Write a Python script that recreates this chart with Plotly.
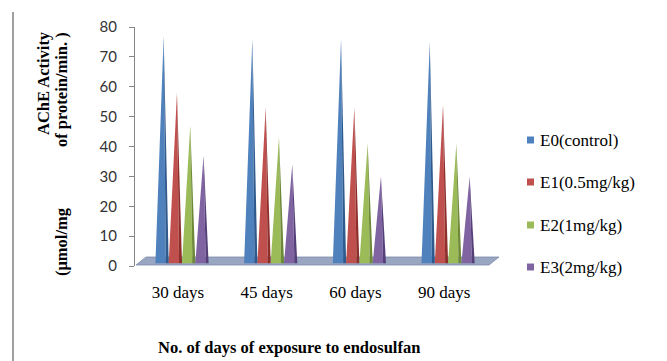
import plotly.graph_objects as go

categories = ["30 days", "45 days", "60 days", "90 days"]
series_names = ["E0(control)", "E1(0.5mg/kg)", "E2(1mg/kg)", "E3(2mg/kg)"]
E0 = [77, 76, 76, 75]
E1 = [58, 53, 53, 54]
E2 = [47, 43, 41, 41]
E3 = [37, 34, 30, 30]
values = [E0, E1, E2, E3]
y_ticks = [0, 10, 20, 30, 40, 50, 60, 70, 80]

colors = ["#4F81BD", "#C0504D", "#9BBB59", "#8064A2"]
dark = ["#2E5A8E", "#8E2F2C", "#6E8A38", "#56407A"]

SERIF = "Times New Roman, Liberation Serif, DejaVu Serif, serif"

W, H = 667, 361
L, R, T, B = 135, 167, 27, 95
xmin, xmax = -0.53, 3.585
cone_w = 0.15
base = 0.9

fig = go.Figure()
for s, (name, vals) in enumerate(zip(series_names, values)):
    for i, v in enumerate(vals):
        c = i + (s - 1.5) * cone_w
        xl, xr = c - cone_w / 2, c + cone_w / 2
        xa = c + cone_w * 0.12
        xs = c + cone_w * 0.28
        fig.add_trace(go.Scatter(
            x=[xl, xa, xs, xl], y=[base, v, base, base], mode="lines",
            fill="toself", fillcolor=colors[s], line=dict(width=0),
            hoverinfo="skip", showlegend=False))
        fig.add_trace(go.Scatter(
            x=[xs, xa, xr, xs], y=[base, v, base, base], mode="lines",
            fill="toself", fillcolor=dark[s], line=dict(width=0),
            hoverinfo="skip", showlegend=False))


def px(x):
    return (x - L) / (W - L - R)


def py(y):
    return (H - B - y) / (H - T - B)


# floor slab
floor_path = "M {0},{1} L {2},{3} L {4},{3} L {5},{1} Z".format(
    px(136), py(265), px(146), py(257), px(499), px(489))
fig.add_shape(type="path", path=floor_path, xref="paper", yref="paper",
              fillcolor="#98A6C2", line=dict(color="#7F8CA8", width=0.8),
              layer="below")

# left border line
fig.add_shape(type="line", xref="paper", yref="paper",
              x0=px(13), x1=px(13), y0=py(12), y1=py(361),
              line=dict(color="#808080", width=1.5))

serif_b = dict(family=SERIF, size=16.5, color="#000")

# y-axis titles
fig.add_annotation(text="<b>AChE Activity</b>", xref="paper", yref="paper",
                   x=px(44), y=py(83), xanchor="center", yanchor="middle",
                   textangle=-90, showarrow=False, font=serif_b)
fig.add_annotation(text="<b>of protein/min. )</b>", xref="paper", yref="paper",
                   x=px(61), y=py(90), xanchor="center", yanchor="middle",
                   textangle=-90, showarrow=False, font=serif_b)
fig.add_annotation(text="<b>(μmol/mg</b>", xref="paper", yref="paper",
                   x=px(61), y=py(242), xanchor="center", yanchor="middle",
                   textangle=-90, showarrow=False, font=serif_b)
fig.add_annotation(text="<b>No. of days of exposure to endosulfan</b>",
                   xref="paper", yref="paper", x=px(289), y=py(347),
                   xanchor="center", yanchor="middle", showarrow=False,
                   font=serif_b)

# legend (manual)
legend_y = [140, 182, 225, 267]
for name, col, ly in zip(series_names, colors, legend_y):
    fig.add_shape(type="rect", xref="paper", yref="paper",
                  x0=px(527), x1=px(534), y0=py(ly - 3.5), y1=py(ly + 3.5),
                  fillcolor=col, line=dict(width=0))
    fig.add_annotation(text=name, xref="paper", yref="paper",
                       x=px(538), y=py(ly), xanchor="left", yanchor="middle",
                       showarrow=False,
                       font=dict(family=SERIF, size=17, color="#000"))

fig.update_layout(
    width=W, height=H, margin=dict(l=L, r=R, t=T, b=B),
    plot_bgcolor="white", paper_bgcolor="white", showlegend=False,
    xaxis=dict(range=[xmin, xmax], tickvals=[0, 1, 2, 3], ticktext=categories,
               showgrid=False, zeroline=False, showline=False, ticks="",
               tickfont=dict(family=SERIF, size=17, color="#000"),
               ticklabelstandoff=14, ticklabelshift=-4),
    yaxis=dict(range=[0, 80], tickvals=y_ticks, showgrid=False, zeroline=False,
               showline=True, linecolor="#868686", linewidth=1,
               ticks="outside", ticklen=5, tickcolor="#868686",
               ticklabelstandoff=9,
               tickfont=dict(family="Lato", size=15, color="#333")),
)

fig.write_html("out.html")
